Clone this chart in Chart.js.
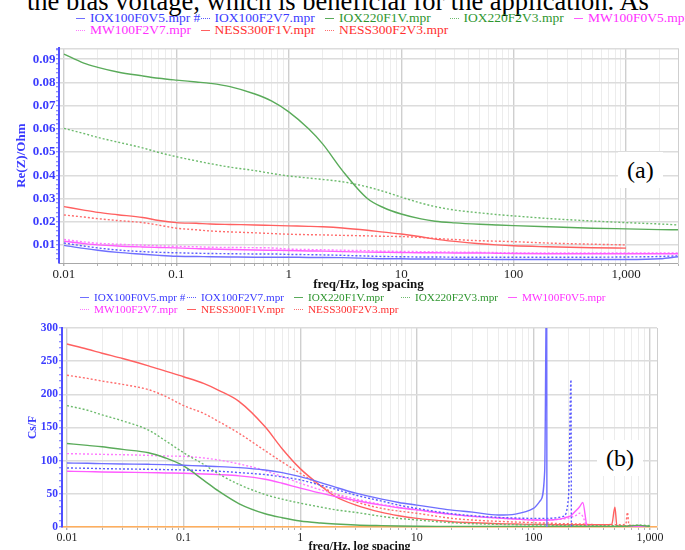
<!DOCTYPE html>
<html>
<head>
<meta charset="utf-8">
<script src="https://cdn.jsdelivr.net/npm/chart.js@4.4.1/dist/chart.umd.min.js"></script>
<style>
  body { margin: 0; width: 685px; height: 550px; overflow: hidden; background: #fff; position: relative; font-family: "Liberation Serif", serif; }
  #caption { position: absolute; left: 27px; top: -12px; font-size: 26.5px; line-height: 26px; white-space: nowrap; color: #000; }
  .leg { position: absolute; white-space: nowrap; line-height: 1; }
  .leg i { display: inline-block; width: 9px; height: 0; border-top: 1.5px solid; vertical-align: middle; margin-right: 5px; }
  .wrap { position: absolute; left: 0; }
  .tag { position: absolute; background: #fff; font-size: 24px; line-height: 1; padding: 6px 9px; color: #000; }
</style>
</head>
<body>
<div id="caption">the bias voltage, which is beneficial for the application. As</div>
<div class="wrap" style="top:40px"><canvas id="chartA" width="685" height="252"></canvas></div>
<div class="wrap" style="top:318px"><canvas id="chartB" width="685" height="236"></canvas></div>
<div class="tag" style="left:618px;top:152px">(a)</div>
<div class="tag" style="left:597px;top:440px">(b)</div>
<script>
// series shared by both panels
const seriesNames = ['IOX100F0V5.mpr #', 'IOX100F2V7.mpr', 'IOX220F1V.mpr', 'IOX220F2V3.mpr',
                     'MW100F0V5.mpr', 'MW100F2V7.mpr', 'NESS300F1V.mpr', 'NESS300F2V3.mpr']
const dotted = [false, true, false, true, false, true, false, true]
const lineColors = ['#6f6fff', '#5a5aff', '#5aab5a', '#6dbb6d', '#ff5cff', '#ff7aff', '#ff6060', '#ff6d6d']
const textColors = ['#3b3bff', '#3b3bff', '#2f962f', '#2f962f', '#ff30ff', '#ff30ff', '#ff3030', '#ff3030']

// x ticks (both panels)
const xTickValues = [0.01, 0.1, 1, 10, 100, 1000]
const xTickLabels = ['0.01', '0.1', '1', '10', '100', '1,000']

// panel (a): Re(Z)/Ohm
const yTicksA = [0.01, 0.02, 0.03, 0.04, 0.05, 0.06, 0.07, 0.08, 0.09]
const freqA = [0.01, 0.015, 0.02, 0.03, 0.05, 0.07, 0.1, 0.15, 0.2, 0.3, 0.5, 0.7, 1, 1.5, 2, 3, 5, 7,
               10, 15, 20, 30, 50, 70, 100, 200, 500, 1000, 2000, 2900]
const reIOX100F0V5 = [0.0098, 0.0085, 0.0077, 0.0068, 0.0060, 0.0055, 0.0051, 0.0050, 0.0049, 0.0048, 0.0047, 0.0047, 0.0047, 0.0046, 0.0046,
                      0.0045, 0.0042, 0.0040, 0.0040, 0.0039, 0.0039, 0.0038, 0.0038, 0.0037, 0.0037, 0.0037, 0.0037, 0.0037, 0.0040, 0.0049]
const reIOX100F2V7 = [0.0108, 0.0095, 0.0087, 0.0078, 0.0071, 0.0068, 0.0066, 0.0064, 0.0063, 0.0062, 0.0061, 0.0061, 0.0059, 0.0058, 0.0057,
                      0.0055, 0.0052, 0.0050, 0.0049, 0.0048, 0.0048, 0.0047, 0.0047, 0.0047, 0.0047, 0.0047, 0.0047, 0.0048, 0.0050, 0.0053]
const reIOX220F1V = [0.0922, 0.0883, 0.0865, 0.0845, 0.0828, 0.0818, 0.0810, 0.0802, 0.0796, 0.0782, 0.0750, 0.0720, 0.0673, 0.0600, 0.0535,
                     0.0420, 0.0300, 0.0260, 0.0233, 0.0212, 0.0202, 0.0195, 0.0189, 0.0186, 0.0183, 0.0178, 0.0172, 0.0169, 0.0166, 0.0165]
const reIOX220F2V3 = [0.0602, 0.0580, 0.0563, 0.0543, 0.0518, 0.0498, 0.0480, 0.0462, 0.0450, 0.0435, 0.0420, 0.0408, 0.0397, 0.0388, 0.0382,
                      0.0372, 0.0350, 0.0330, 0.0306, 0.0280, 0.0265, 0.0250, 0.0238, 0.0231, 0.0225, 0.0214, 0.0203, 0.0196, 0.0190, 0.0186]
const reMW100F0V5 = [0.0116, 0.0106, 0.0100, 0.0095, 0.0091, 0.0089, 0.0087, 0.0084, 0.0082, 0.0080, 0.0078, 0.0077, 0.0076, 0.0074, 0.0073,
                     0.0071, 0.0069, 0.0068, 0.0067, 0.0066, 0.0066, 0.0065, 0.0065, 0.0064, 0.0063, 0.0062, 0.0062, 0.0062, 0.0062, 0.0062]
const reMW100F2V7 = [0.0123, 0.0113, 0.0107, 0.0103, 0.0099, 0.0096, 0.0094, 0.0092, 0.0090, 0.0089, 0.0088, 0.0087, 0.0082, 0.0080, 0.0079,
                     0.0077, 0.0075, 0.0073, 0.0072, 0.0071, 0.0070, 0.0069, 0.0068, 0.0067, 0.0066, 0.0065, 0.0065, 0.0065, 0.0065, 0.0065]
const reNESS300F1V = [0.0265, 0.0250, 0.0240, 0.0230, 0.0218, 0.0205, 0.0196, 0.0193, 0.0190, 0.0188, 0.0186, 0.0184, 0.0182, 0.0180, 0.0178,
                      0.0173, 0.0163, 0.0155, 0.0147, 0.0135, 0.0125, 0.0115, 0.0105, 0.0100, 0.0096, 0.0092, 0.0088, 0.0086, null, null]
const reNESS300F2V3 = [0.0229, 0.0220, 0.0213, 0.0205, 0.0196, 0.0185, 0.0172, 0.0165, 0.0160, 0.0156, 0.0152, 0.0149, 0.0146, 0.0144, 0.0143,
                       0.0141, 0.0139, 0.0137, 0.0136, 0.0132, 0.0128, 0.0123, 0.0118, 0.0116, 0.0114, 0.0108, 0.0103, 0.0100, null, null]

// panel (b): Cs/F
const yTicksB = [0, 50, 100, 150, 200, 250, 300]
const freqB = [0.01, 0.015, 0.02, 0.03, 0.05, 0.07, 0.1, 0.15, 0.2, 0.3, 0.5, 0.7, 1, 1.5, 2, 3, 5, 7,
               10, 15, 20, 30, 50, 70, 100, 115, 125, 130, 131, 150, 180, 200, 210, 213, 230, 250,
               265, 290, 400, 470, 500, 520, 620, 640, 660, 800, 1000]
const csIOX100F0V5 = [96.5, 96, 95.5, 95, 94.5, 94, 93, 92, 91, 89.5, 86, 82, 76, 67, 60, 51, 42, 37,
                      33, 28.5, 25.5, 22.5, 18, 19.5, 28, 40, 85, 400, -400, null, null, null, null, null, null, null,
                      null, null, null, null, null, null, null, null, null, null, null]
const csIOX100F2V7 = [89, 88.5, 88, 87.5, 87, 86.5, 86, 85, 84, 82, 79, 75.5, 71, 63, 57, 48, 39, 33,
                      28, 23, 20, 17, 14.5, 13.5, 13, 13, 13, 13, 13, 13.5, 16, 45, 222, -300, null, null,
                      null, null, null, null, null, null, null, null, null, null, null]
const csIOX220F1V = [125.8, 123, 121, 117, 112, 104, 92, 70, 54, 35, 20, 14, 9, 6, 4.5, 3, 2, 1.5,
                     1.2, 1, 1, 1, 1, 1, 1, 1, 1, 1, 1, 1, 1, 1, 1, 1, 1, 1,
                     1, 1, 1, 1, 1, 1, 1, 1, 1.5, 2.5, 1]
const csIOX220F2V3 = [183, 176, 169, 160, 146, 130, 112, 94, 80, 64, 49, 42, 36, 30, 26, 22, 16, 13,
                      10.6, 8, 6.5, 5, 4, 3.5, 3, 3, 3, 3, 3, 2.5, 2.5, 2.5, 2.5, 2.5, 2, 2,
                      2, 2, 2, 2, 2, 2, 2, 2, 2, 3, 2]
const csMW100F0V5 = [84, 83.5, 83, 82.5, 82, 81.5, 81, 80, 79, 77, 72, 66, 58.6, 51, 46, 40, 33, 29,
                     25.8, 21.5, 19, 16, 13.5, 12, 10.6, 10.5, 10.5, 10.5, 10.5, 11, 13, 15.6, 17, 18, 24, 31,
                     37, 1, 0.5, 0.5, 0.5, 0.5, 0.5, 0.5, 0.5, 0.5, 0.5]
const csMW100F2V7 = [110.6, 110, 109.5, 109, 108, 107, 106.5, 104, 101, 95, 85, 76, 66, 56, 50, 42, 34, 30,
                     26, 21.5, 19, 16, 13.5, 12, 10.6, 10.5, 10.5, 10.5, 10.5, 11, 12, 13.5, 14.5, 15, 17, 20.7,
                     16, 1, 0.5, 0.5, 0.5, 0.5, 0.5, 0.5, 0.5, 0.5, 0.5]
const csNESS300F1V = [275.8, 268, 262, 254, 243, 235, 226.5, 216, 206, 189, 151, 118, 88, 62, 46, 33, 22, 17,
                      13, 10, 8, 6.5, 5, 4.5, 4, 4, 4, 4, 4, 3.5, 3.5, 3.5, 3.5, 3.5, 3.5, 3.5,
                      3.5, 3.5, 3.5, 4, 30, 2, 1.5, 1.5, 1.5, 1, 1]
const csNESS300F2V3 = [228.8, 224, 220, 215, 207, 197, 183, 171, 159, 141, 115, 98, 81, 62, 50, 38, 28, 24,
                       20.7, 16, 13, 10.5, 8.5, 7.5, 6.5, 6, 6, 6, 6, 5.5, 5, 5, 5, 5, 4.5, 4.5,
                       4.5, 4, 3.5, 3.5, 3.5, 3.5, 4, 22, 3, 2, null]

const serif = 'Liberation Serif'

function logTicks(max) {
  let out = []
  for (let v of xTickValues) {
    out.push({value: v, major: true})
    for (let m = 2; m < 10; m++) {
      if (m * v <= max) out.push({value: m * v, major: false})
    }
  }
  out.push({value: max, edge: true})
  return out
}

function linTicks(majors, step, min, max) {
  let out = []
  let first = Math.ceil(min / step - 1e-9)
  let last = Math.floor(max / step + 1e-9)
  for (let k = first; k <= last; k++) {
    let v = k * step
    let hit = majors.find(t => Math.abs(t - v) < step / 10)
    out.push(hit !== undefined ? {value: hit, major: true} : {value: v, major: false})
  }
  if (!out.some(t => Math.abs(t.value - max) < step / 10)) out.push({value: max, edge: true})
  return out
}

function buildChart(id, freq, values, cfg) {
  return new Chart(document.getElementById(id), {
    type: 'line',
    data: {
      labels: freq,
      datasets: values.map((v, i) => ({
        label: seriesNames[i],
        data: v,
        borderColor: lineColors[i],
        borderWidth: 1.4,
        borderDash: dotted[i] ? [2, 2] : [],
        pointRadius: 0,
        cubicInterpolationMode: 'monotone',
        fill: false
      }))
    },
    options: {
      responsive: false,
      animation: false,
      layout: {padding: cfg.padding},
      plugins: {legend: {display: false}, tooltip: {enabled: false}},
      scales: {
        x: {
          type: 'logarithmic',
          min: cfg.xMin,
          max: cfg.xMax,
          afterBuildTicks: s => { s.ticks = logTicks(cfg.xMax) },
          afterFit: s => { s.height = cfg.xHeight },
          border: {color: cfg.xBorder, width: cfg.xBorderWidth},
          grid: {
            color: c => c.tick && (c.tick.major || c.tick.edge) ? '#cfcfcf' : '#ececec',
            lineWidth: c => c.tick && c.tick.major ? 1.4 : 1,
            tickLength: 3,
            tickColor: '#b0b0b0'
          },
          ticks: {
            autoSkip: false,
            maxRotation: 0,
            padding: cfg.xPad,
            color: '#222',
            font: {family: serif, size: cfg.xFont},
            callback: v => {
              let k = xTickValues.indexOf(v)
              return k >= 0 ? xTickLabels[k] : ''
            }
          },
          title: {
            display: true,
            text: 'freq/Hz, log spacing',
            color: '#111',
            font: {family: serif, size: cfg.xFont, weight: 'bold'},
            padding: {top: 0, bottom: 0}
          }
        },
        y: {
          min: cfg.yMin,
          max: cfg.yMax,
          afterBuildTicks: s => { s.ticks = linTicks(cfg.yMajors, cfg.yStep, cfg.yMin, cfg.yMax) },
          afterFit: s => { s.width = cfg.yWidth },
          border: {color: '#5050ff', width: 2},
          grid: {
            color: c => c.tick && (c.tick.major || c.tick.edge) ? '#dcdcdc' : 'rgba(0,0,0,0)',
            lineWidth: 1.5,
            tickLength: 3,
            tickColor: '#6a6aff',
            tickWidth: 1
          },
          ticks: {
            autoSkip: false,
            padding: cfg.yPad,
            color: '#3b3bff',
            font: {family: serif, size: cfg.yFont, weight: 'bold'},
            callback: (v, i, ticks) => ticks[i].major ? cfg.yFormat(v) : ''
          },
          title: {
            display: true,
            text: cfg.yTitle,
            color: '#3b3bff',
            font: {family: serif, size: cfg.yFont, weight: 'bold'},
            padding: {top: cfg.yTitlePad, bottom: 0}
          }
        }
      }
    }
  })
}

function drawLegend(x0, colW, y0, rowH, size) {
  seriesNames.forEach((name, i) => {
    let d = document.createElement('div')
    d.className = 'leg'
    d.style.left = (x0 + (i % 5) * colW) + 'px'
    d.style.top = (y0 + Math.floor(i / 5) * rowH) + 'px'
    d.style.fontSize = size + 'px'
    d.style.color = textColors[i]
    d.innerHTML = '<i style="border-top-style:' + (dotted[i] ? 'dotted' : 'solid') + ';border-top-color:' + lineColors[i] + '"></i>' + name
    document.body.appendChild(d)
  })
}

drawLegend(76, 124.5, 10.5, 12.5, 13.5)
drawLegend(80, 107, 291.5, 12, 11.2)

buildChart('chartA', freqA,
  [reIOX100F0V5, reIOX100F2V7, reIOX220F1V, reIOX220F2V3, reMW100F0V5, reMW100F2V7, reNESS300F1V, reNESS300F2V3],
  {padding: {top: 8, right: 7, left: 0, bottom: 0}, xMin: 0.00903, xMax: 2900, xHeight: 29, xPad: 1, xFont: 13,
   xBorder: '#a8a8a8', xBorderWidth: 1,
   yMin: 0.0022, yMax: 0.0947, yMajors: yTicksA, yStep: 0.002, yWidth: 59, yPad: 0.5, yFont: 13,
   yFormat: v => v.toFixed(2), yTitle: 'Re(Z)/Ohm', yTitlePad: 14})

buildChart('chartB', freqB,
  [csIOX100F0V5, csIOX100F2V7, csIOX220F1V, csIOX220F2V3, csMW100F0V5, csMW100F2V7, csNESS300F1V, csNESS300F2V3],
  {padding: {top: 10, right: 28, left: 0, bottom: 0}, xMin: 0.00906, xMax: 1148, xHeight: 27, xPad: 1, xFont: 12,
   xBorder: '#ffae5c', xBorderWidth: 1.6,
   yMin: 0, yMax: 300, yMajors: yTicksB, yStep: 10, yWidth: 62, yPad: 1, yFont: 11.5,
   yFormat: v => String(v), yTitle: 'Cs/F', yTitlePad: 26})
</script>
</body>
</html>
